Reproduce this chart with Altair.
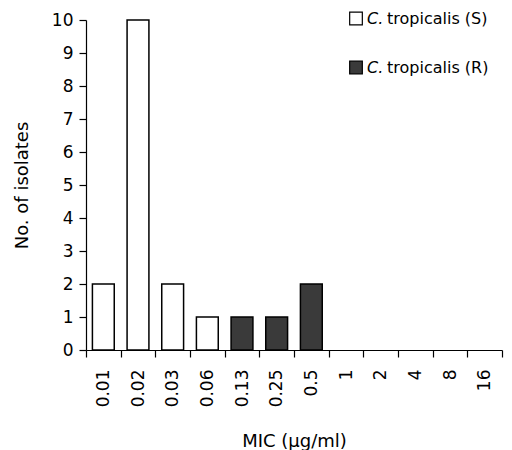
import altair as alt
import pandas as pd

mic = ["0.01", "0.02", "0.03", "0.06", "0.13", "0.25", "0.5", "1", "2", "4", "8", "16"]
counts = [2, 10, 2, 1, 1, 1, 2, 0, 0, 0, 0, 0]
group = ["S", "S", "S", "S", "R", "R", "R", "S", "S", "S", "S", "S"]
legend_names = ["tropicalis (S)", "tropicalis (R)"]

FONT = "DejaVu Sans"
DARK = "#3a3a3a"

df = pd.DataFrame({"mic": mic, "count": counts, "group": group})

bars = alt.Chart(df).transform_filter("datum.count > 0").mark_bar(
    stroke="black", strokeWidth=1.5, width={"band": 0.63}
).encode(
    x=alt.X("mic:N", sort=mic,
            scale=alt.Scale(domain=mic, paddingInner=0, paddingOuter=0),
            axis=alt.Axis(title="MIC (µg/ml)", labelAngle=-90, tickBand="extent",
                          tickSize=7, labelPadding=12, titlePadding=26,
                          labelBaseline="middle", labelAlign="right")),
    y=alt.Y("count:Q", scale=alt.Scale(domain=[0, 10], nice=False),
            axis=alt.Axis(title="No. of isolates", values=list(range(11)),
                          tickSize=7, labelPadding=6, titlePadding=20, grid=False)),
    fill=alt.Fill("group:N", scale=alt.Scale(domain=["S", "R"], range=["white", DARK]),
                  legend=None),
)

layers = [bars]
for i, (name, col) in enumerate(zip(legend_names, ["white", DARK])):
    ld = pd.DataFrame({"label": [name]})
    yv = -1.5 + 49 * i
    sq = alt.Chart(ld).mark_square(size=160, fill=col, stroke="black", strokeWidth=1.2,
                                   opacity=1).encode(
        x=alt.value(270), y=alt.value(yv))
    c = alt.Chart(ld).mark_text(text="C.", fontStyle="italic", font=FONT, fontSize=16,
                                align="left", baseline="middle", color="black").encode(
        x=alt.value(281), y=alt.value(yv))
    t = alt.Chart(ld).mark_text(font=FONT, fontSize=16, align="left",
                                baseline="middle", color="black").encode(
        x=alt.value(301), y=alt.value(yv), text="label:N")
    layers += [sq, c, t]

chart = alt.layer(*layers).properties(
    width=416, height=330,
    autosize=alt.AutoSizeParams(type="none"),
    padding={"left": 78, "top": 12, "right": 2, "bottom": 100},
).configure_view(stroke=None).configure_axis(
    domainColor="black", tickColor="black", labelColor="black", titleColor="black",
    labelFont=FONT, titleFont=FONT, labelFontSize=17, titleFontSize=18,
    titleFontWeight="normal", domainWidth=1.2, tickWidth=1.2,
)

chart.save("out.html", embed_options={"renderer": "svg", "actions": False})
